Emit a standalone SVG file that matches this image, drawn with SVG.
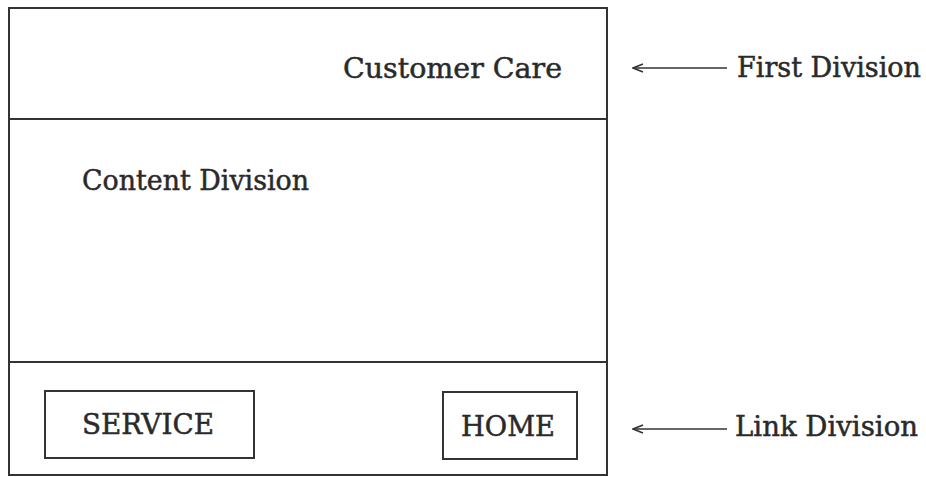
<svg xmlns="http://www.w3.org/2000/svg" width="926" height="477" viewBox="0 0 926 477">
<defs>
<style>
.box{fill:none;stroke:#333;stroke-width:2}
.t{font-family:"DejaVu Serif","Liberation Serif",serif;font-size:28px;fill:#2a2a2a;stroke:#2a2a2a;stroke-width:0.5}
.conn{stroke:#333;stroke-width:1.6;fill:none}
</style>
<marker id="arr" viewBox="0 0 12 10" refX="11" refY="5" markerWidth="12" markerHeight="10" markerUnits="userSpaceOnUse" orient="auto">
<path d="M1,1 L11,5 L1,9" fill="none" stroke="#333" stroke-width="1.6"/>
</marker>
</defs>
<rect width="926" height="477" fill="#fff"/>
<g id="page">
<rect class="box" x="9" y="8" width="598" height="467"/>
</g>
<g id="first-division">
<line class="box" x1="9" y1="119" x2="607" y2="119"/>
<text class="t" x="343" y="78" textLength="219" lengthAdjust="spacingAndGlyphs">Customer Care</text>
</g>
<g id="content-division">
<line class="box" x1="9" y1="362" x2="607" y2="362"/>
<text class="t" x="82" y="190" textLength="227" lengthAdjust="spacingAndGlyphs">Content Division</text>
</g>
<g id="service">
<rect class="box" x="45" y="391" width="209" height="67"/>
<text class="t" x="82" y="434" textLength="132" lengthAdjust="spacingAndGlyphs">SERVICE</text>
</g>
<g id="home">
<rect class="box" x="443" y="392" width="134" height="67"/>
<text class="t" x="461" y="436" textLength="94" lengthAdjust="spacingAndGlyphs">HOME</text>
</g>
<g id="label-first">
<text class="t" x="737" y="77" textLength="184" lengthAdjust="spacingAndGlyphs">First Division</text>
</g>
<g id="label-link">
<text class="t" x="735" y="436" textLength="183" lengthAdjust="spacingAndGlyphs">Link Division</text>
</g>
<g id="connectors">
<line class="conn" x1="727" y1="68" x2="633" y2="68" marker-end="url(#arr)"/>
<line class="conn" x1="727" y1="429" x2="633" y2="429" marker-end="url(#arr)"/>
</g>
</svg>
